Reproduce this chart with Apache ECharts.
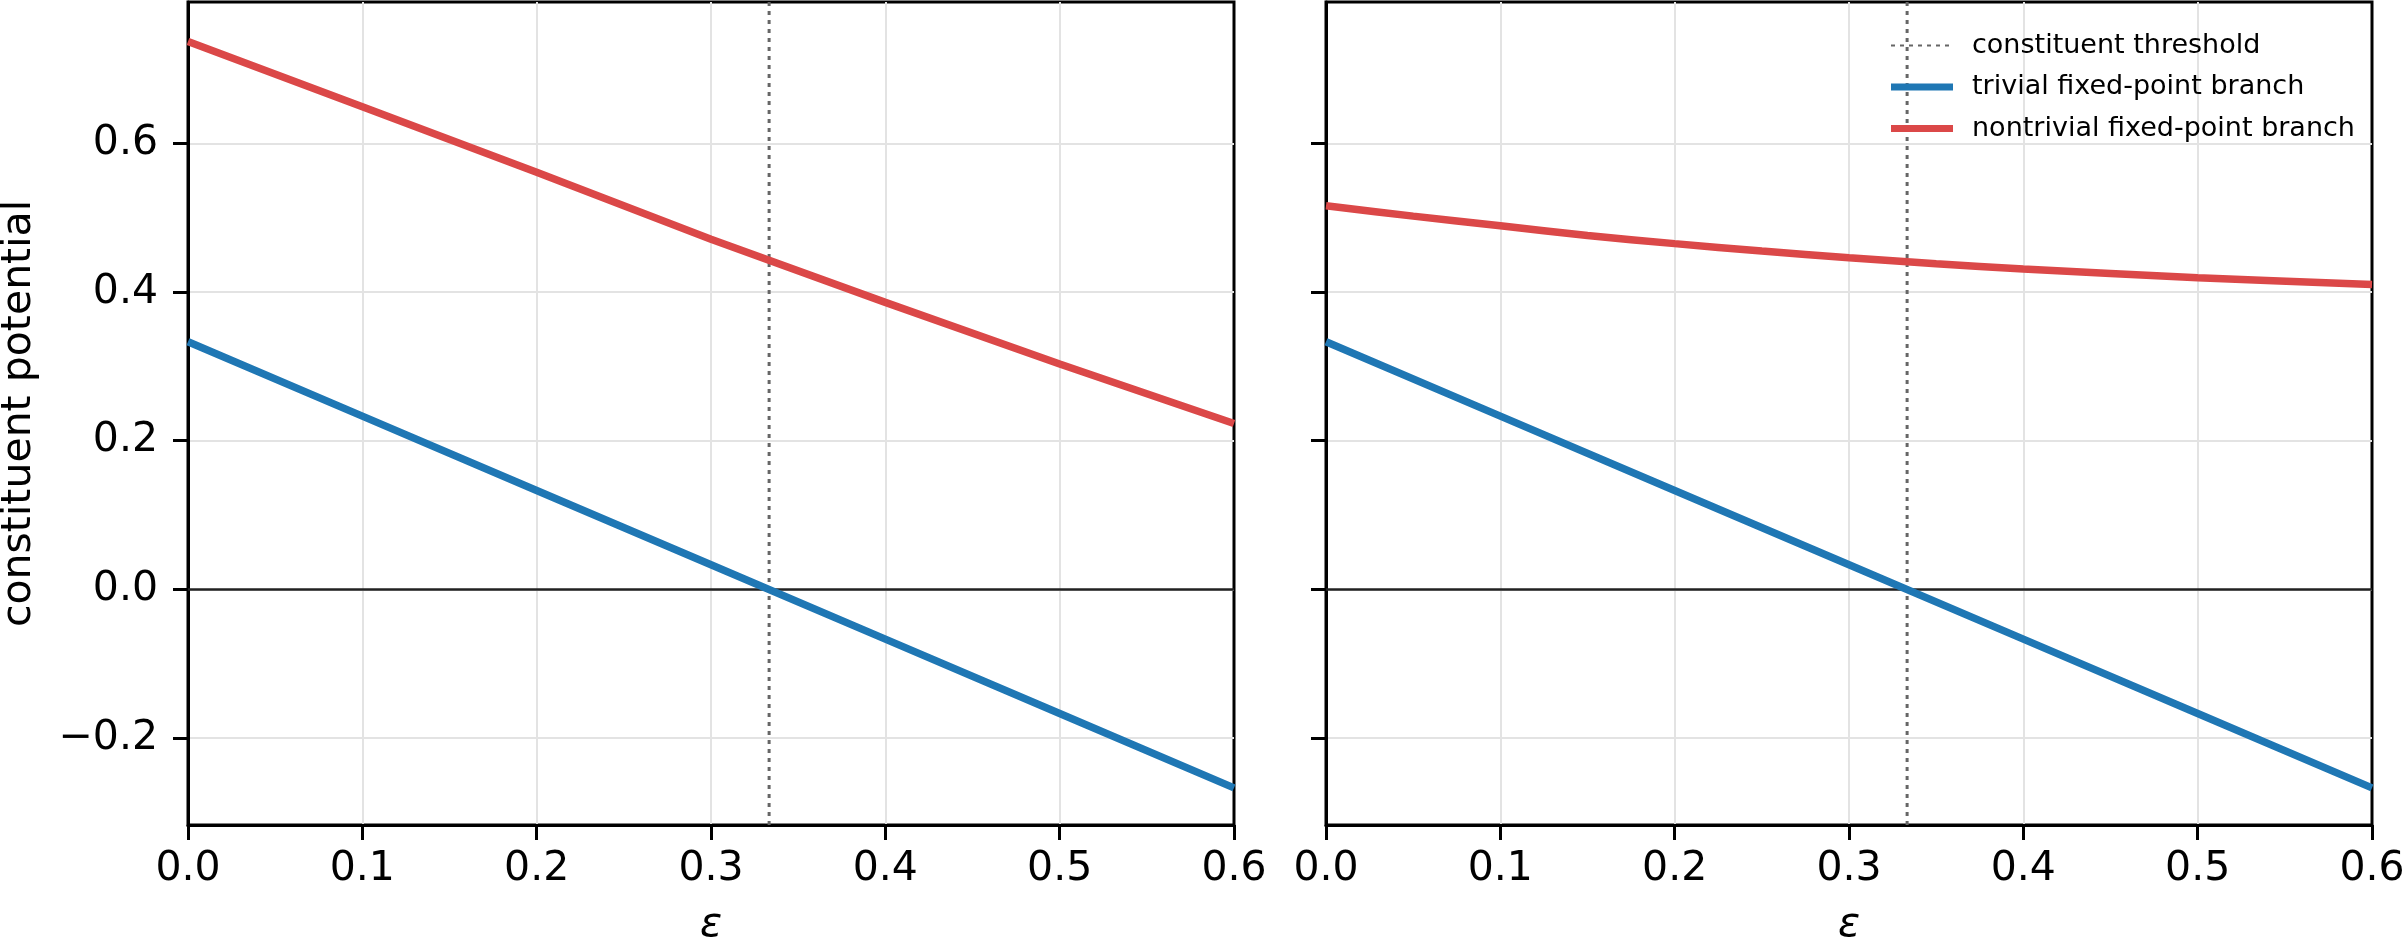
<!DOCTYPE html>
<html>
<head>
<meta charset="utf-8">
<script src="https://cdn.jsdelivr.net/npm/echarts@6/dist/echarts.min.js"></script>
<style>
  html, body { margin: 0; padding: 0; background: #fff; }
  #chart { width: 2403px; height: 943px; }
</style>
</head>
<body>
<div id="chart"></div>
<script>
// values
const eps = [0, 0.1, 0.2, 0.3, 0.4, 0.5, 0.6]
const trivialBranch = [0.333, 0.233, 0.133, 0.033, -0.067, -0.167, -0.267]
const nontrivialLeft = [0.737, 0.649, 0.561, 0.471, 0.386, 0.303, 0.223]
const epsRight = [0, 0.05, 0.1, 0.15, 0.2, 0.25, 0.3, 0.35, 0.4, 0.5, 0.6]
const nontrivialRight = [0.516, 0.502, 0.489, 0.476, 0.465, 0.455, 0.446, 0.438, 0.431, 0.419, 0.410]
const thresholdEps = 1 / 3
const yTicks = [-0.2, 0, 0.2, 0.4, 0.6]
const yMin = -0.317
const yMax = 0.79

const FONT = 'DejaVu Sans'
const BLUE = '#1f77b4'
const RED = '#db4848'
const names = {
    thr: 'constituent threshold',
    triv: 'trivial fixed-point branch',
    nontriv: 'nontrivial fixed-point branch'
}

const pairs = (xs, ys) => xs.map((x, i) => [x, ys[i]])
const fmtY = v => (v < 0 ? '\u2212' : '') + Math.abs(v).toFixed(1)

const gridBase = {
    top: 2, bottom: 118, show: true, borderColor: '#000', borderWidth: 3,
    backgroundColor: '#fff', containLabel: false, outerBoundsMode: 'none'
}

const xAxisFor = (gridIndex) => ({
    type: 'value',
    gridIndex,
    min: 0,
    max: 0.6,
    interval: 0.1,
    name: 'ε',
    nameLocation: 'middle',
    nameGap: 80,
    nameTextStyle: { fontFamily: FONT, fontSize: 41, fontStyle: 'italic', color: '#000' },
    axisLine: { show: true, onZero: false, lineStyle: { color: '#000', width: 3 } },
    axisTick: { show: true, inside: false, length: 15, lineStyle: { color: '#000', width: 3 } },
    axisLabel: {
        margin: 24, fontFamily: FONT, fontSize: 41, color: '#000',
        formatter: v => v.toFixed(1), showMinLabel: true, showMaxLabel: true
    },
    splitLine: { show: true, showMinLine: false, showMaxLine: false, lineStyle: { color: '#e3e3e3', width: 2 } }
})

const yAxisFor = (gridIndex, showLabels) => ({
    type: 'value',
    gridIndex,
    min: yMin,
    max: yMax,
    name: showLabels ? 'constituent potential' : '',
    nameLocation: 'middle',
    nameGap: 148,
    nameTextStyle: { fontFamily: FONT, fontSize: 41, color: '#000' },
    axisLine: { show: true, onZero: false, lineStyle: { color: '#000', width: 3 } },
    axisTick: { show: true, inside: false, length: 15, lineStyle: { color: '#000', width: 3 }, customValues: yTicks },
    axisLabel: {
        show: showLabels, margin: 30, fontFamily: FONT, fontSize: 41, color: '#000',
        formatter: fmtY, customValues: yTicks
    },
    splitLine: { show: true, lineStyle: { color: '#e3e3e3', width: 2 } }
})

const seriesFor = (idx, nontrivData) => [
    {
        name: names.thr,
        type: 'line',
        xAxisIndex: idx, yAxisIndex: idx,
        data: [[thresholdEps, yMin], [thresholdEps, yMax]],
        symbol: 'none',
        lineStyle: { color: '#666', width: 3, type: [4, 5] },
        itemStyle: { color: '#666' },
        z: 3
    },
    {
        name: names.triv,
        type: 'line',
        xAxisIndex: idx, yAxisIndex: idx,
        data: pairs(eps, trivialBranch),
        symbol: 'none',
        lineStyle: { color: BLUE, width: 7.5 },
        itemStyle: { color: BLUE },
        z: 4,
        markLine: {
            silent: true,
            symbol: 'none',
            label: { show: false },
            lineStyle: { color: '#222', width: 2.5, type: 'solid' },
            data: [{ yAxis: 0 }],
            z: 2
        }
    },
    {
        name: names.nontriv,
        type: 'line',
        xAxisIndex: idx, yAxisIndex: idx,
        data: nontrivData,
        symbol: 'none',
        smooth: idx === 1 ? 0.3 : false,
        lineStyle: { color: RED, width: 7.5 },
        itemStyle: { color: RED },
        z: 4
    }
]

const chart = echarts.init(document.getElementById('chart'), null, { renderer: 'canvas' })
chart.setOption({
    animation: false,
    backgroundColor: '#fff',
    grid: [
        Object.assign({}, gridBase, { left: 188, right: 2403 - 1234 }),
        Object.assign({}, gridBase, { left: 1326, right: 31 })
    ],
    xAxis: [xAxisFor(0), xAxisFor(1)],
    yAxis: [yAxisFor(0, true), yAxisFor(1, false)],
    legend: {
        orient: 'vertical',
        left: 1885,
        top: 27,
        itemWidth: 62,
        itemHeight: 7,
        itemGap: 14.5,
        textStyle: { fontFamily: FONT, fontSize: 27, color: '#000', lineHeight: 27, padding: [0, 0, 0, 14] },
        data: [
            { name: names.thr, itemStyle: { opacity: 0 } },
            { name: names.triv, icon: 'rect' },
            { name: names.nontriv, icon: 'rect' }
        ]
    },
    series: [
        ...seriesFor(0, pairs(eps, nontrivialLeft)),
        ...seriesFor(1, pairs(epsRight, nontrivialRight))
    ]
})
</script>
</body>
</html>
